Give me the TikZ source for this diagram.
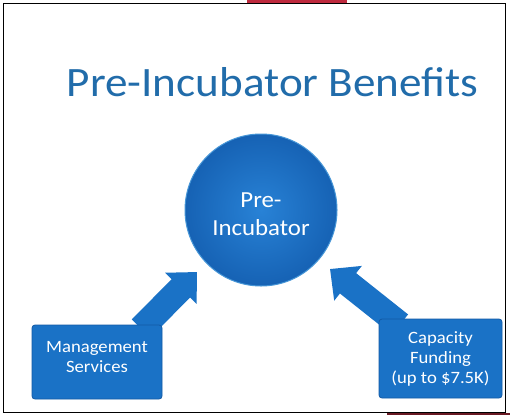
\documentclass[tikz,border=0pt]{standalone}
\usepackage{fontspec}
\setmainfont{Carlito}[FakeStretch=1.08]
\usetikzlibrary{arrows.meta,backgrounds,calc}
\definecolor{titleblue}{RGB}{33,108,170}
\definecolor{boxblue}{RGB}{26,114,198}
\definecolor{boxdark}{RGB}{18,90,165}
\definecolor{hubin}{RGB}{40,130,214}
\definecolor{hubout}{RGB}{22,98,180}
\definecolor{hubrim}{RGB}{70,150,215}
\definecolor{slidered}{RGB}{190,42,62}
\definecolor{darkred}{RGB}{105,25,35}
\begin{document}
\begin{tikzpicture}[x=1pt,y=-1pt,
  benefit/.style={draw=boxdark, line width=0.8pt, fill=boxblue, rounded corners=3pt, inner sep=0pt},
  btext/.style={text=white, align=center, inner sep=0pt, font=\fontsize{17.3}{19.8}\selectfont},
  hub/.style={circle, minimum size=152pt, inner sep=0pt, inner color=hubin, outer color=hubout, draw=hubrim, line width=1pt},
  hubtext/.style={text=white, align=center, inner sep=0pt, font=\fontsize{23}{28}\selectfont},
  flow/.style={line width=26pt, draw=boxblue, -{Triangle[width=43pt,length=23pt]}},
]
\useasboundingbox (0,0) rectangle (510,415);
% clipped slide pieces at top and bottom
\fill[slidered] (247,0) rectangle (347,2.6);
\fill[darkred] (387,413.4) rectangle (510,415);
% frame
\draw[line width=1.8pt] (3.5,3.5) rectangle (505.5,412.5);

% title
\node (title) [text=titleblue, inner sep=0pt, font=\fontsize{41.8}{48}\selectfont, anchor=base] at (272.5,96) {Pre-Incubator Benefits};

% hub
\node (hub) [hub] at (261,210) {};
\node (hubtxt) [hubtext] at (261,214) {Pre-\\Incubator};

% benefit boxes
\node (mgmt) [benefit, minimum width=130pt, minimum height=74pt] at (97,362) {};
\node (mgmttxt) [btext] at (97,357) {Management\\Services};
\node (fund) [benefit, minimum width=123pt, minimum height=79pt] at (440.5,358.5) {};
\node (fundtxt) [btext] at (440.5,359) {Capacity\\Funding\\(up to \$7.5K)};

% arrows
\coordinate (mgmttail) at ($(mgmt.north)+(44,4)$);
\coordinate (mgmttip) at (197,272);
\coordinate (fundtail) at ($(fund.north)+(-40.5,6)$);
\coordinate (fundtip) at (330,269);
\begin{scope}[on background layer]
\fill[white] (0,0) rectangle (510,415);
\draw[flow] (mgmttail) -- (mgmttip);
\draw[flow] (fundtail) -- (fundtip);
\end{scope}
\end{tikzpicture}
\end{document}
